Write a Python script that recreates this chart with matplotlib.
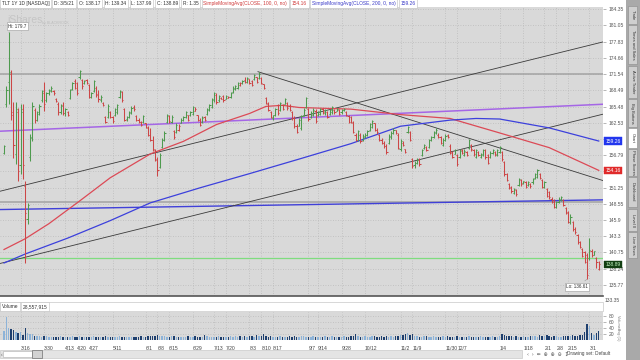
import numpy as np
import pandas as pd
import matplotlib
matplotlib.use("Agg")
import matplotlib.pyplot as plt
from matplotlib.patches import Rectangle

plt.rcParams['font.family'] = ['Liberation Sans', 'DejaVu Sans']

W, H = 640, 360

# TLT daily bars, 3/5/2020 - 3/5/2021
opens = [
    157.2, 166.0, 170.0, 171.5, 164.0, 157.0, 164.5, 155.0, 165.0, 151.5,
    146.0, 156.5, 160.0, 164.8, 163.0, 164.5, 166.6, 168.0, 166.6, 168.0,
    168.4, 168.4, 166.9, 166.0, 164.5, 165.8, 164.3, 164.4, 167.0, 168.8,
    170.3, 169.8, 170.9, 170.5, 169.8, 170.4, 169.5, 167.3, 168.4, 169.0,
    167.8, 166.6, 166.2, 163.5, 163.5, 164.4, 163.5, 163.9, 164.5, 167.2,
    168.2, 165.0, 163.2, 163.6, 164.4, 165.3, 163.8, 163.0, 162.6, 162.6,
    162.4, 161.6, 160.4, 159.5, 157.6, 156.2, 154.8, 158.2, 159.5, 162.6,
    163.8, 162.7, 161.0, 160.8, 161.3, 162.5, 163.0, 163.5, 163.9, 163.9,
    164.2, 164.7, 163.9, 163.0, 162.7, 163.5, 164.2, 164.8, 165.4, 166.6,
    167.7, 166.6, 167.1, 167.4, 166.9, 167.1, 167.2, 168.2, 168.8, 169.0,
    169.5, 169.8, 170.4, 170.0, 170.6, 170.3, 170.6, 171.0, 170.8, 170.8,
    169.6, 167.1, 166.0, 164.4, 163.3, 163.9, 165.7, 164.8, 165.7, 166.0,
    166.2, 165.5, 164.4, 163.4, 162.0, 162.0, 161.5, 164.0, 165.4, 165.0,
    163.5, 164.0, 164.7, 164.0, 164.2, 165.0, 164.3, 164.4, 164.2, 164.5,
    164.9, 164.7, 164.9, 164.4, 164.8, 164.4, 163.8, 163.5, 162.5, 160.4,
    159.4, 160.4, 159.4, 160.0, 160.3, 161.2, 161.8, 162.4, 161.3, 160.3,
    159.5, 159.0, 158.4, 158.9, 159.9, 160.7, 161.2, 160.4, 157.8, 159.0,
    157.8, 160.8, 160.8, 156.1, 155.0, 155.5, 156.0, 156.8, 158.0, 158.2,
    158.2, 159.4, 160.0, 160.7, 160.4, 160.0, 158.6, 159.5, 160.3, 158.4,
    157.3, 157.0, 156.8, 156.5, 157.6, 156.8, 157.3, 158.0, 158.5, 157.7,
    156.5, 157.3, 156.5, 156.8, 157.6, 156.8, 156.5, 157.1, 157.4, 156.8,
    157.3, 157.3, 155.6, 153.5, 151.9, 151.3, 150.4, 150.8, 151.7, 152.5,
    152.0, 152.2, 151.6, 151.9, 152.1, 152.9, 153.1, 153.5, 152.5, 151.4,
    151.0, 150.5, 149.4, 149.2, 148.1, 148.9, 149.2, 149.2, 147.8, 147.2,
    145.6, 145.6, 144.5, 143.5, 142.4, 141.3, 140.8, 140.4, 139.8, 141.0,
    140.4, 139.9, 138.17]
highs = [
    158.6, 169.2, 179.7, 172.4, 166.4, 166.4, 165.2, 165.9, 165.9, 152.4,
    148.6, 160.5, 166.4, 165.2, 164.6, 165.9, 168.6, 170.1, 168.2, 168.8,
    169.2, 168.6, 167.0, 166.4, 165.9, 166.4, 165.2, 164.6, 168.8, 170.1,
    170.7, 170.1, 172.4, 170.7, 170.5, 170.7, 169.7, 168.2, 170.5, 169.2,
    168.6, 167.6, 166.4, 163.7, 165.9, 164.6, 163.7, 165.2, 166.0, 168.6,
    168.4, 165.2, 163.7, 164.6, 165.5, 165.7, 164.0, 163.3, 162.8, 164.0,
    162.5, 161.9, 161.6, 160.1, 157.8, 156.5, 157.1, 159.8, 161.0, 164.2,
    164.0, 164.0, 161.3, 162.5, 162.3, 163.3, 163.7, 164.6, 164.0, 164.6,
    165.5, 165.3, 164.0, 163.3, 163.7, 163.7, 165.2, 165.9, 167.0, 168.2,
    167.9, 167.6, 167.3, 167.6, 167.6, 167.4, 168.2, 169.2, 169.5, 170.1,
    170.1, 170.5, 170.9, 171.0, 170.7, 170.5, 171.6, 171.0, 172.0, 171.0,
    169.7, 167.3, 166.4, 164.6, 164.0, 165.2, 165.9, 166.4, 165.9, 167.0,
    166.4, 165.9, 164.6, 163.7, 162.3, 163.3, 164.0, 165.2, 167.3, 165.2,
    164.6, 165.2, 165.0, 164.6, 165.2, 165.2, 165.0, 164.6, 165.0, 165.5,
    165.0, 165.2, 165.0, 165.0, 165.2, 164.6, 164.0, 163.7, 162.8, 160.6,
    161.3, 160.6, 160.5, 160.6, 161.3, 162.5, 163.1, 162.5, 161.6, 160.5,
    159.8, 159.2, 158.7, 160.5, 161.0, 161.6, 161.3, 160.6, 159.6, 159.2,
    157.9, 161.9, 161.0, 156.3, 155.8, 156.3, 156.3, 157.9, 158.7, 158.4,
    159.6, 160.1, 161.0, 161.6, 160.6, 160.1, 159.8, 160.5, 160.5, 158.7,
    157.5, 157.8, 157.0, 157.8, 157.8, 157.8, 157.5, 159.6, 158.7, 157.9,
    157.9, 157.5, 157.1, 157.8, 157.8, 157.0, 157.5, 157.8, 157.5, 157.9,
    158.4, 157.5, 155.8, 153.7, 152.0, 151.5, 151.2, 151.0, 152.9, 152.7,
    152.4, 152.4, 152.4, 152.0, 152.9, 153.7, 154.4, 153.7, 152.7, 152.4,
    151.2, 150.7, 149.6, 149.4, 149.0, 149.6, 149.9, 149.4, 148.0, 147.4,
    146.8, 145.8, 144.7, 143.7, 142.6, 141.5, 141.0, 140.6, 143.0, 141.3,
    141.0, 140.0, 139.34]
lows = [
    156.9, 165.3, 166.0, 163.0, 156.3, 155.3, 152.4, 153.6, 152.7, 139.1,
    145.3, 155.8, 159.2, 162.4, 162.8, 164.0, 166.4, 164.6, 166.4, 167.7,
    168.2, 167.7, 166.4, 164.0, 164.2, 164.0, 163.7, 163.7, 166.8, 168.6,
    168.8, 167.7, 170.7, 168.8, 169.6, 169.6, 167.0, 167.0, 168.2, 167.3,
    166.4, 166.4, 165.5, 162.4, 163.3, 163.3, 162.5, 163.7, 164.2, 167.0,
    166.4, 162.8, 162.8, 163.3, 164.2, 164.6, 162.8, 162.5, 161.9, 162.4,
    161.6, 160.1, 159.2, 157.5, 155.8, 153.2, 154.6, 158.0, 159.2, 162.4,
    162.5, 162.4, 159.6, 160.6, 161.0, 162.4, 162.8, 163.3, 162.8, 163.7,
    164.0, 164.6, 162.8, 161.9, 162.5, 162.8, 164.0, 164.6, 165.2, 166.4,
    166.0, 166.4, 166.8, 166.4, 166.8, 167.0, 167.0, 168.0, 168.6, 168.8,
    169.2, 169.6, 169.8, 169.8, 169.6, 169.2, 170.5, 169.8, 170.7, 169.6,
    168.8, 165.9, 164.6, 163.3, 163.1, 163.7, 164.0, 164.6, 164.9, 165.9,
    164.9, 164.6, 163.1, 161.6, 160.6, 161.9, 161.3, 163.7, 165.2, 162.8,
    163.3, 163.7, 162.4, 163.7, 164.0, 164.2, 164.0, 163.3, 164.0, 164.2,
    164.2, 164.6, 164.0, 164.2, 164.6, 163.7, 162.5, 162.4, 160.6, 159.2,
    159.2, 158.9, 159.2, 159.8, 160.1, 161.0, 161.6, 161.0, 160.5, 159.2,
    158.7, 158.0, 157.0, 158.7, 159.6, 160.5, 160.5, 157.8, 157.5, 158.4,
    157.1, 160.6, 159.2, 154.6, 154.6, 155.3, 154.9, 156.6, 157.8, 157.5,
    158.0, 159.2, 159.8, 160.5, 159.8, 158.7, 158.4, 159.2, 159.8, 156.9,
    156.3, 156.9, 154.9, 156.3, 156.9, 156.6, 156.6, 157.8, 157.5, 156.6,
    156.3, 156.6, 156.3, 156.6, 156.1, 155.3, 156.3, 156.9, 156.6, 156.6,
    157.1, 155.8, 153.2, 152.4, 151.0, 150.4, 150.2, 149.9, 151.5, 151.5,
    151.9, 151.2, 151.5, 151.2, 151.9, 152.7, 152.9, 152.7, 151.2, 151.2,
    149.6, 149.4, 148.6, 147.9, 147.9, 148.7, 149.0, 148.2, 146.9, 145.4,
    145.3, 144.2, 143.7, 142.1, 141.4, 140.0, 139.1, 136.61, 139.5, 140.0,
    140.3, 138.4, 137.99]
closes = [
    158.3, 168.5, 172.0, 164.5, 158.5, 165.0, 154.0, 164.5, 155.0, 147.0,
    148.3, 159.8, 165.5, 163.0, 164.2, 165.5, 168.3, 166.0, 168.0, 168.5,
    169.0, 167.9, 166.5, 164.5, 165.5, 164.3, 165.0, 163.9, 168.5, 169.8,
    169.0, 168.0, 172.1, 169.3, 170.3, 169.9, 167.3, 167.9, 170.2, 167.6,
    166.8, 167.3, 165.7, 162.6, 165.5, 163.6, 162.8, 165.0, 165.8, 168.3,
    166.7, 163.1, 163.5, 164.3, 165.2, 165.0, 163.0, 162.7, 162.1, 163.8,
    161.8, 160.4, 159.5, 157.8, 156.0, 154.2, 156.8, 159.5, 160.7, 164.0,
    162.9, 163.6, 159.9, 162.2, 162.0, 163.1, 163.5, 164.4, 163.1, 164.4,
    165.3, 165.1, 163.1, 162.2, 163.4, 163.0, 165.0, 165.7, 166.8, 168.0,
    166.3, 167.4, 166.9, 166.6, 167.4, 167.3, 168.0, 169.0, 169.3, 169.9,
    169.8, 170.3, 170.1, 170.8, 169.9, 169.4, 171.4, 170.1, 171.6, 169.8,
    169.0, 166.1, 164.9, 163.5, 163.9, 165.0, 164.3, 166.1, 165.1, 166.8,
    165.2, 164.8, 163.4, 161.9, 160.9, 163.0, 163.7, 164.9, 167.0, 163.2,
    164.3, 164.9, 162.8, 164.4, 165.0, 164.4, 164.8, 163.6, 164.8, 165.3,
    164.4, 165.1, 164.2, 164.8, 165.0, 163.9, 162.7, 162.6, 160.9, 159.5,
    161.0, 159.2, 160.2, 160.4, 161.1, 162.3, 162.9, 161.3, 160.8, 159.4,
    158.9, 158.3, 157.3, 160.2, 160.7, 161.3, 160.7, 158.1, 159.2, 158.6,
    157.3, 161.7, 159.5, 154.9, 155.4, 156.0, 155.2, 157.7, 158.5, 157.7,
    159.4, 159.9, 160.8, 161.3, 160.0, 159.0, 159.5, 160.2, 159.9, 157.2,
    156.5, 157.6, 155.2, 157.5, 157.1, 157.5, 156.8, 159.4, 157.8, 156.9,
    157.6, 156.8, 156.9, 157.6, 156.4, 155.5, 157.2, 157.6, 156.9, 157.7,
    158.2, 156.1, 153.5, 152.6, 151.2, 150.7, 151.0, 150.1, 152.7, 151.8,
    152.3, 151.4, 152.2, 151.5, 152.7, 153.5, 154.2, 152.9, 151.4, 152.1,
    149.8, 149.6, 148.8, 148.1, 148.8, 149.4, 149.7, 148.4, 147.1, 145.6,
    146.4, 144.4, 143.9, 142.4, 141.6, 140.2, 139.3, 137.3, 141.2, 140.4,
    140.9, 139.3, 138.89]
# volume in millions of shares
volumes = [
    30, 77, 40, 37, 33, 27, 22, 25, 18, 40,
    22, 20, 20, 14, 13, 12, 11, 12, 13, 10,
    9, 10, 11, 9, 12, 10, 11, 9, 10, 12,
    11, 10, 13, 9, 10, 11, 9, 10, 12, 9,
    10, 9, 11, 12, 10, 9, 10, 11, 9, 12,
    10, 11, 9, 10, 9, 11, 10, 9, 12, 10,
    11, 13, 12, 14, 13, 16, 14, 12, 13, 11,
    10, 12, 13, 11, 10, 9, 11, 10, 12, 10,
    11, 12, 10, 9, 11, 17, 12, 10, 11, 9,
    10, 12, 11, 10, 9, 11, 12, 10, 13, 11,
    12, 10, 14, 11, 13, 12, 11, 15, 12, 14,
    20, 13, 11, 12, 10, 11, 9, 12, 10, 11,
    10, 12, 11, 13, 10, 11, 12, 14, 10, 11,
    9, 12, 10, 11, 10, 9, 12, 10, 11, 13,
    10, 9, 11, 10, 12, 11, 10, 14, 13, 20,
    12, 11, 10, 12, 11, 10, 13, 12, 11, 10,
    12, 11, 13, 10, 12, 11, 14, 12, 16, 18,
    20, 22, 17, 19, 14, 12, 11, 10, 12, 13,
    11, 10, 12, 11, 9, 10, 12, 11, 13, 10,
    11, 9, 12, 10, 11, 10, 9, 12, 11, 10,
    11, 10, 12, 10, 9, 11, 10, 12, 11, 10,
    13, 20, 16, 14, 12, 13, 11, 12, 10, 11,
    12, 10, 11, 13, 12, 14, 11, 18, 13, 12,
    15, 12, 11, 13, 12, 11, 10, 12, 14, 13,
    12, 15, 13, 14, 16, 18, 25, 52, 46, 22,
    18, 24, 28.56]

holidays = ["2020-04-10", "2020-05-25", "2020-07-03", "2020-09-07", "2020-11-26",
            "2020-12-25", "2021-01-01", "2021-01-18", "2021-02-15"]

date_labels = ["3/16", "3/30", "4/13", "4/20", "4/27", "5/11", "6/1", "6/8", "6/15",
               "6/29", "7/13", "7/20", "8/3", "8/10", "8/17", "9/7", "9/14", "9/28",
               "10/12", "11/2", "11/9", "11/30", "12/7", "1/4", "1/18", "2/1", "2/8",
               "2/15", "3/1"]
label_dates = ["2020-03-16", "2020-03-30", "2020-04-13", "2020-04-20", "2020-04-27",
               "2020-05-11", "2020-06-01", "2020-06-08", "2020-06-15", "2020-06-29",
               "2020-07-13", "2020-07-20", "2020-08-03", "2020-08-10", "2020-08-17",
               "2020-09-07", "2020-09-14", "2020-09-28", "2020-10-12", "2020-11-02",
               "2020-11-09", "2020-11-30", "2020-12-07", "2021-01-04", "2021-01-18",
               "2021-02-01", "2021-02-08", "2021-02-15", "2021-03-01"]

# moving averages (bar index, value)
sma100_x = [0, 9, 19, 32, 45, 62, 76, 90, 104, 111, 118, 125, 147, 168, 189, 210, 231, 252]
sma100 = [141.2, 142.9, 145.3, 149.0, 152.9, 157.0, 159.2, 162.2, 164.2, 165.5, 165.7,
          165.3, 165.0, 164.0, 163.3, 160.7, 158.1, 154.16]
sma200_x = [0, 9, 27, 45, 62, 83, 104, 125, 147, 168, 189, 200, 210, 231, 252]
sma200 = [139.1, 140.5, 143.0, 145.8, 148.7, 151.2, 153.6, 156.1, 158.8, 161.9, 163.0,
          163.3, 163.2, 161.6, 159.26]

# drawings: (bar index pair, price pair)
trend_lines = [([-2, 254], [139.0, 164.1]),
               ([-2, 254], [150.6, 177.8]),
               ([107.6, 254], [172.0, 152.4])]
purple_line = ([-2, 254], [161.0, 165.9])
blue_line = ([-2, 254], [147.6, 149.2])
gray_levels = [171.6, 148.9]
green_level = 139.8

price_ticks = [135.77, 138.24, 140.75, 143.3, 145.9, 148.55, 151.25, 154.0, 156.79,
               159.63, 162.53, 165.48, 168.49, 171.54, 174.66, 177.83, 181.05, 184.35]
price_tick_labels = ["135.77", "138.24", "140.75", "143.3", "145.9", "148.55", "151.25",
                     "", "156.79", "", "162.53", "165.48", "168.49", "171.54", "174.66",
                     "177.83", "181.05", "184.35"]
vol_ticks = [20, 40, 60, 80]

PANEL = '#d9d9d9'
GRID = '#bababa'
UP = '#4e9a4e'
DN = '#cc4646'
TXT = '#555555'


def frect(x0, y0, x1, y1):
    return [x0 / W, 1 - y1 / H, (x1 - x0) / W, (y1 - y0) / H]


def prect(x0, y0, x1, y1, **kw):
    fig.add_artist(Rectangle((x0 / W, 1 - y1 / H), (x1 - x0) / W, (y1 - y0) / H,
                             transform=fig.transFigure, **kw))


def ftext(x, y, s, **kw):
    return fig.text(x / W, 1 - y / H, s, **kw)


days = pd.bdate_range("2020-03-05", "2021-03-05")
days = days[~days.isin(pd.to_datetime(holidays))]
tick_idx = days.searchsorted(pd.to_datetime(label_dates))

fig = plt.figure(figsize=(6.4, 3.6), dpi=100)
fig.patch.set_facecolor('white')

ax = fig.add_axes(frect(0, 7, 603, 296))
axv = fig.add_axes(frect(0, 312, 603, 340), sharex=ax)

xs = np.arange(len(closes))
cl = np.array(closes)
prev = np.r_[cl[0], cl[:-1]]
up = cl >= prev
cols = np.where(up, UP, DN)

# price panel
ax.set_facecolor(PANEL)
ax.set_yscale('log')
ax.set_ylim(134.1, 184.8)
ax.set_xlim(-1.7, 253.8)
ax.yaxis.tick_right()
ax.set_yticks(price_ticks)
ax.set_yticklabels(price_tick_labels)
ax.yaxis.set_minor_locator(plt.NullLocator())
ax.yaxis.set_minor_formatter(plt.NullFormatter())
ax.tick_params(axis='y', length=2, width=0.5, pad=2, labelsize=3.6,
               labelcolor=TXT, color='#999999')
ax.set_xticks(tick_idx)
ax.tick_params(axis='x', length=0, labelbottom=False)
ax.grid(True, color=GRID, ls=(0, (1, 2)), lw=0.6)
ax.set_axisbelow(True)
for s in ['top', 'left', 'right']:
    ax.spines[s].set_visible(False)
ax.spines['bottom'].set_color('#555555')
ax.spines['bottom'].set_linewidth(1.2)

ax.text(0.012, 0.955, "iShares", transform=ax.transAxes, fontsize=7.5,
        color='#c5c5c5', va='center', zorder=0.5)
ax.text(0.07, 0.945, "by BLACKROCK", transform=ax.transAxes, fontsize=2.6,
        color='#bdbdbd', va='center', zorder=0.5)

for lv in gray_levels:
    ax.axhline(lv, color='#a3a3a3', lw=1.1, zorder=1)
ax.axhline(green_level, color='#7fdc7f', lw=0.9, zorder=1)
ax.plot(*blue_line, color='#4040d8', lw=1.0, zorder=1)
ax.plot(*purple_line, color='#a566e6', lw=1.1, zorder=1)
for lx, ly in trend_lines:
    ax.plot(lx, ly, color='#3a3a3a', lw=0.6, zorder=1)
ax.plot(sma100_x, sma100, color='#dc4a56', lw=0.9, zorder=2)
ax.plot(sma200_x, sma200, color='#3c40dc', lw=0.9, zorder=2)

ax.vlines(xs, lows, highs, colors=cols, lw=0.75, zorder=3)
ax.hlines(opens, xs - 0.5, xs, colors=cols, lw=0.75, zorder=3)
ax.hlines(closes, xs, xs + 0.5, colors=cols, lw=0.75, zorder=3)

box = dict(boxstyle='square,pad=0.3', fc='white', ec='#999999', lw=0.4)
ax.annotate("Hi: 179.7", xy=(2, 179.7), xytext=(5.7, 180.9), fontsize=3.3,
            color='#333333', ha='center', va='center', bbox=box, zorder=5,
            arrowprops=dict(arrowstyle='-', color='#999999', lw=0.4))
ax.annotate("Lo: 136.61", xy=(247, 136.61), xytext=(242.8, 135.5), fontsize=3.3,
            color='#333333', ha='center', va='center', bbox=box, zorder=5,
            arrowprops=dict(arrowstyle='-', color='#999999', lw=0.4))

for val, fc, tc in [(159.26, '#2236ee', 'white'), (154.16, '#e02a2a', 'white'),
                    (138.89, '#123f12', '#bff0bf')]:
    ax.text(1.004, val, f"{val:.2f}", transform=ax.get_yaxis_transform(),
            fontsize=3.6, color=tc, ha='left', va='center', clip_on=False, zorder=10,
            bbox=dict(boxstyle='square,pad=0.25', fc=fc, ec=fc, lw=0.3))

# volume panel
vcols = np.where(up, '#8db3d8', '#1e3f6e')
axv.set_facecolor(PANEL)
axv.bar(xs, volumes, width=0.6, color=vcols, zorder=3)
axv.set_ylim(0, 93)
axv.yaxis.tick_right()
axv.set_yticks(vol_ticks)
axv.tick_params(axis='y', length=2, width=0.5, pad=2, labelsize=3.6,
                labelcolor=TXT, color='#999999')
axv.set_xticks(tick_idx)
axv.set_xticklabels(date_labels, ha='left')
axv.tick_params(axis='x', length=0, pad=4, labelsize=3.6, labelcolor='#444444')
axv.grid(True, color=GRID, ls=(0, (1, 2)), lw=0.6)
axv.set_axisbelow(True)
for s in axv.spines.values():
    s.set_visible(False)

ftext(605, 301, "133.35", fontsize=3.6, color=TXT, va='center')
ftext(618, 328, "VolumeAvg (1)", fontsize=2.8, color='#777777', rotation=270,
      va='center', ha='center')

# header rows
renderer = fig.canvas.get_renderer()


def header(items, y, x0, size=3.5):
    x = x0
    for s, c in items:
        t = ftext(x, y, s, fontsize=size, color=c, va='center', ha='left',
                  bbox=dict(boxstyle='square,pad=0.35', fc='white', ec='#bdbdbd', lw=0.4))
        bb = t.get_window_extent(renderer)
        x = bb.x1 + 2 * 0.35 * size * 100 / 72 + 1.5


header([("TLT 1Y 1D [NASDAQ]", '#333333'), ("D: 3/5/21", '#333333'),
        ("O: 138.17", '#333333'), ("H: 139.34", '#333333'), ("L: 137.99", '#333333'),
        ("C: 138.89", '#333333'), ("R: 1.35", '#333333'),
        ("SimpleMovingAvg(CLOSE, 100, 0, no)", '#d03a3a'), ("154.16", '#d03a3a'),
        ("SimpleMovingAvg(CLOSE, 200, 0, no)", '#3a3ac8'), ("159.26", '#3a3ac8')],
       3.5, 1.5)

prect(0, 302, 603, 311, fc='white', ec='#c8c8c8', lw=0.5)
header([("Volume", '#333333'), ("28,557,915", '#333333')], 306.5, 1.5)

# bottom scrollbar and tools
prect(0, 350, 522, 358, fc='#e4e4e4', ec='#c0c0c0', lw=0.4)
prect(3, 351, 32, 357, fc='white', ec='#b0b0b0', lw=0.4)
prect(32, 350, 42, 357.5, fc='#d2d2d2', ec='#707070', lw=0.5)
ftext(1, 354, "‹", fontsize=3.5, color='#555555', va='center')
ftext(527, 354, "‹  ›  ⇹  ⊕  ⊕  ⊖  ↧", fontsize=3.4, color='#555555', va='center',
      family=['DejaVu Sans'])
ftext(567, 354, "Drawing set: Default", fontsize=3.4, color='#444444', va='center')

# right side tabs
prect(626, 0, 640, 360, fc='#a9a9a9', ec='none')
tabs = [("Trade", 6, 24), ("Times and Sales", 25, 64), ("Active Trader", 66, 98),
        ("Big Buttons", 99, 127), ("Chart", 128, 148), ("Phase Scores", 149, 176),
        ("Dashboard", 177, 207), ("Level II", 209, 231), ("Live News", 232, 258)]
for name, y0, y1 in tabs:
    fc = 'white' if name == "Chart" else '#cfcfcf'
    prect(628, y0, 637, y1, fc=fc, ec='#8a8a8a', lw=0.4)
    ftext(632.5, (y0 + y1) / 2, name, fontsize=2.9, color='#333333', rotation=270,
          ha='center', va='center')

fig.savefig('out.png', dpi=100)
